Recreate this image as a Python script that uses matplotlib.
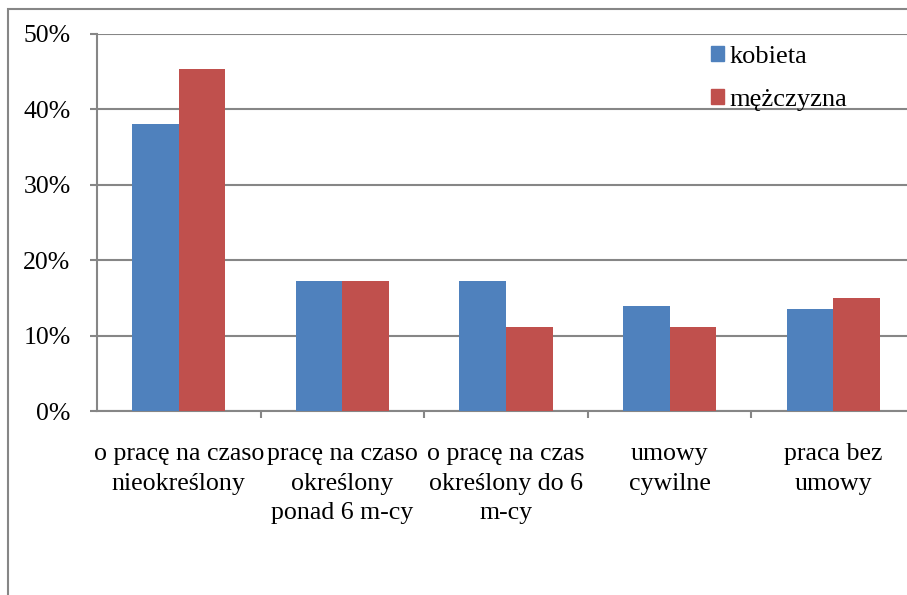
import matplotlib
matplotlib.use("Agg")
import matplotlib.pyplot as plt
import numpy as np
from matplotlib.patches import Rectangle, Patch

categories = ["o pracę na czaso\nnieokreślony",
              "pracę na czaso\nokreślony\nponad 6 m-cy",
              "o pracę na czas\nokreślony do 6\nm-cy",
              "umowy\ncywilne",
              "praca bez\numowy"]
kobieta = [38.1, 17.2, 17.2, 13.9, 13.5]
mezczyzna = [45.4, 17.3, 11.1, 11.1, 15.0]
series_names = ["kobieta", "mężczyzna"]

plt.rcParams['font.family'] = ['Liberation Serif', 'DejaVu Serif']
blue = "#4F81BD"
red = "#C0504D"
grey = "#868686"

fig = plt.figure(figsize=(9.07, 5.95), dpi=100)
# outer chart border (only top and left visible in the crop)
fig.patches.append(Rectangle((8/907, -0.1), 1.2, (595-9)/595 + 0.1,
                             transform=fig.transFigure, fill=False,
                             edgecolor=grey, linewidth=1.5))

ax = fig.add_axes([97/907, 184/595, 818/907, 377/595])
x = np.arange(len(categories))
w = 0.285
ax.bar(x - w/2, kobieta, w, color=blue, zorder=3)
ax.bar(x + w/2, mezczyzna, w, color=red, zorder=3)

ax.set_xlim(-0.5, len(categories) - 0.5)
ax.set_ylim(0, 50)
ax.set_yticks(np.arange(0, 51, 10))
ax.set_yticklabels([f"{v}%" for v in range(0, 51, 10)])
ax.yaxis.grid(True, color=grey, linewidth=1.5, zorder=0)
ax.set_axisbelow(True)

ax.set_xticks(x)
ax.set_xticklabels(categories, linespacing=1.45)
ax.set_xticks(np.arange(0.5, len(categories) - 0.5, 1), minor=True)
ax.tick_params(axis='x', which='major', length=0, pad=23, labelsize=18.6)
ax.tick_params(axis='x', which='minor', length=5, width=1.5, color=grey, direction='out')
ax.tick_params(axis='y', length=5, width=1.5, color=grey, pad=14, labelsize=18.5)

for s in ['top', 'right']:
    ax.spines[s].set_visible(False)
for s in ['left', 'bottom']:
    ax.spines[s].set_color(grey)
    ax.spines[s].set_linewidth(1.5)

handles = [Patch(color=blue), Patch(color=red)]
fig.legend(handles, series_names, loc='upper left',
           bbox_to_anchor=(700/907, 1 - 35/595), frameon=False,
           fontsize=19, handlelength=0.5, handleheight=0.5,
           handletextpad=0.22, labelspacing=0.8, borderaxespad=0)

fig.savefig("out.png", dpi=100)
